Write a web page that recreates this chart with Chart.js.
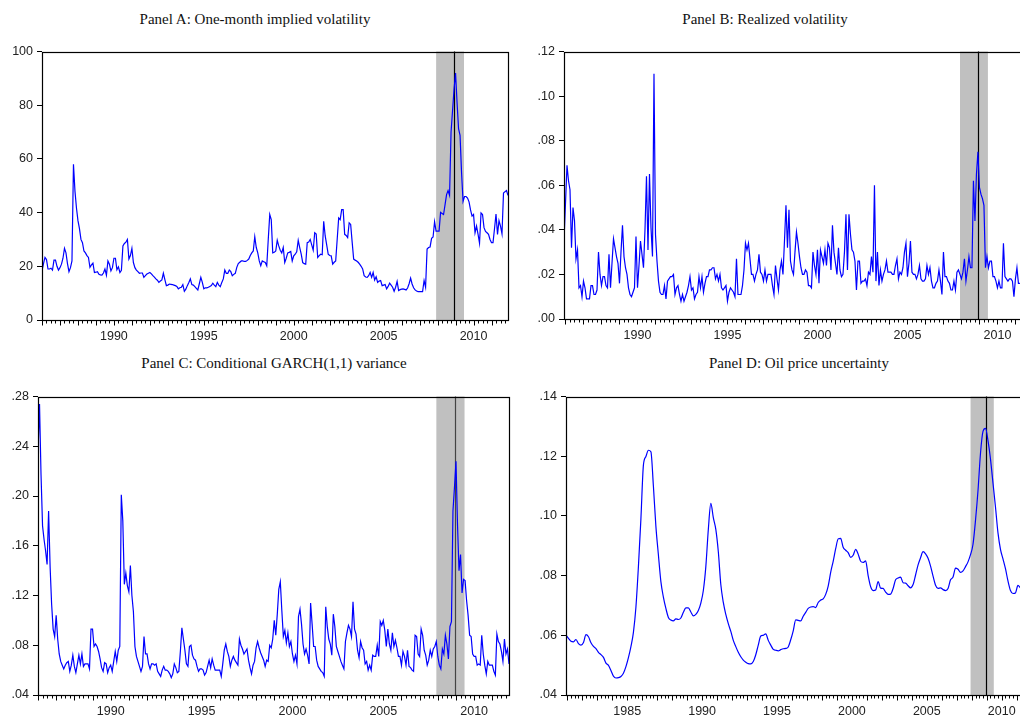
<!DOCTYPE html>
<html>
<head>
<meta charset="utf-8">
<script src="https://cdn.jsdelivr.net/npm/chart.js@4.4.1/dist/chart.umd.min.js"></script>
<style>
html, body { margin: 0; padding: 0; background: #fff; width: 1020px; height: 717px; overflow: hidden; }
.panel { position: absolute; }
.title { position: absolute; font-family: "Liberation Serif", "Times New Roman", serif; font-size: 15px;
         color: #111; white-space: nowrap; transform: translateX(-50%); }
</style>
</head>
<body>
<div class="title" style="left:255px; top:11px">Panel A: One-month implied volatility</div>
<div class="title" style="left:765px; top:11px">Panel B: Realized volatility</div>
<div class="title" style="left:274px; top:355px">Panel C: Conditional GARCH(1,1) variance</div>
<div class="title" style="left:799px; top:355px">Panel D: Oil price uncertainty</div>

<canvas id="chartA" class="panel" width="512" height="310" style="left:0; top:40px"></canvas>
<canvas id="chartB" class="panel" width="505" height="310" style="left:520px; top:40px"></canvas>
<canvas id="chartC" class="panel" width="512" height="332" style="left:0; top:385px"></canvas>
<canvas id="chartD" class="panel" width="505" height="332" style="left:520px; top:385px"></canvas>

<script>
// recession band and the crisis marker (decimal years)
const recession = [2007.92, 2009.47];
const crisisDate = 2008.94;

// Panel A: one-month implied volatility, monthly from Jan 1986
const ivolStart = 1986;
const impliedVol = [
  18.3, 21, 23.3, 22.5, 19, 19, 19.3, 18.6, 22.3, 22.3, 20, 18.6,
  19.5, 20.8, 23, 26.7, 25, 21, 18, 19.5, 22, 58, 48, 41.7,
  37, 34, 30, 28.8, 25.7, 25, 24, 23.3, 19.6, 20.5, 21.2, 17.7,
  17.8, 18, 17, 16.8, 16.7, 17.5, 19, 16.7, 22, 20.8, 18.3, 19.5,
  23, 23, 18.7, 19.8, 17.7, 18.5, 27.6, 28.5, 29, 30, 22.7, 24,
  26.7, 21.4, 19.5, 18.6, 18, 17.4, 17.5, 17.5, 15.9, 16.5, 17.1, 17.4,
  17.7, 17.2, 16.5, 16, 15.3, 14.8, 14, 14.5, 14.9, 17.4, 15, 12.8,
  13, 13.4, 13.3, 13.2, 13, 12.8, 12.5, 11.6, 12, 12.2, 13.2, 10.7,
  11.5, 12.8, 14, 15.3, 13.2, 13, 12.4, 11.8, 11.2, 13.5, 15.9, 14,
  11.6, 12, 12, 12.2, 12.5, 12.8, 13.7, 13, 12.4, 14, 13, 12.4,
  14, 15.3, 18.6, 17.4, 17.4, 18.6, 18, 16.5, 17, 17.4, 19.6, 21,
  21.5, 22, 22, 21.8, 21.8, 22.2, 22.7, 24, 25, 25.7, 31, 27,
  25, 22, 20.2, 22, 21.7, 21.4, 20.2, 30, 39.3, 37.4, 25, 25.2,
  25.7, 29.7, 27.6, 26, 25, 27, 21.4, 23, 25, 25.2, 25.5, 22,
  23.9, 24.5, 25.4, 29.7, 27, 24.5, 21.4, 21, 20.8, 28.8, 29, 30,
  28, 26, 32.5, 32, 23.3, 24, 24.5, 24.3, 36.8, 31.3, 28, 24.5,
  24, 23.9, 20.8, 21.5, 22, 30, 38, 37.4, 41.1, 41.1, 31.9, 31.5,
  30.7, 36.2, 35.6, 29, 22.7, 22.3, 22, 21.5, 20.8, 20, 19, 16.5,
  16, 15.9, 16.5, 17.7, 15.9, 17.7, 14.9, 16.1, 14, 14.5, 14.7, 12.8,
  13, 13.2, 11.6, 12.5, 13.7, 13, 12.2, 10.7, 12.2, 14.4, 11, 11.3,
  11.5, 11.6, 11.4, 11.2, 11.9, 13.5, 15.6, 13.4, 12, 11.2, 10.8, 10.6,
  10.6, 10.6, 10.6, 14.7, 12.2, 26.4, 27, 27.2, 30.4, 30.9, 36.6, 33.1,
  33.1, 33.1, 40.1, 39.7, 39.3, 43, 46.7, 48.2, 46.4, 70, 78, 86,
  92, 81, 71.3, 68.8, 55, 44.2, 46, 46, 45.4, 44, 41, 38.7,
  39.3, 32.5, 35, 32, 28.6, 39.9, 39.3, 34.4, 33, 32.5, 31.9, 30,
  28.8, 28.8, 34, 39.5, 31.9, 37, 35, 32.1, 47.3, 47.8, 48.2, 46.4
];

// Panel B: realized volatility, monthly from Dec 1985
const rvolStart = 1985 + 11 / 12;
const realizedVol = [
  .035, .052, .069, .062, .058, .032, .050, .044, .027, .031, .014, .015,
  .010, .017, .014, .009, .009, .009, .015, .015, .011, .011, .013, .030,
  .020, .015, .019, .019, .015, .014, .029, .014, .025, .036, .032, .028,
  .025, .016, .030, .042, .028, .023, .020, .014, .011, .010, .012, .014,
  .037, .014, .024, .035, .029, .023, .040, .064, .031, .065, .041, .028,
  .110, .038, .026, .017, .012, .011, .011, .015, .009, .017, .018, .019,
  .019, .020, .011, .014, .015, .011, .008, .011, .008, .010, .012, .015,
  .019, .013, .014, .009, .011, .012, .019, .014, .019, .012, .016, .019,
  .019, .022, .022, .023, .023, .018, .020, .017, .020, .014, .013, .014,
  .015, .008, .012, .014, .013, .012, .010, .027, .011, .011, .011, .015,
  .022, .034, .031, .034, .027, .020, .020, .017, .020, .022, .029, .021,
  .020, .017, .022, .017, .020, .020, .020, .015, .011, .024, .018, .013,
  .022, .026, .020, .035, .051, .032, .049, .026, .022, .020, .030, .039,
  .034, .028, .023, .020, .020, .022, .021, .015, .015, .014, .030, .024,
  .020, .031, .016, .031, .028, .025, .031, .024, .034, .032, .022, .042,
  .030, .025, .020, .032, .022, .019, .020, .030, .047, .022, .047, .038,
  .031, .030, .026, .013, .026, .026, .016, .017, .017, .018, .015, .021,
  .020, .028, .021, .060, .017, .030, .015, .022, .017, .020, .022, .026,
  .021, .021, .021, .020, .020, .024, .027, .018, .021, .020, .023, .030,
  .034, .019, .025, .035, .021, .020, .020, .018, .020, .024, .018, .017,
  .017, .018, .024, .020, .023, .017, .014, .014, .016, .017, .022, .017,
  .011, .030, .019, .019, .017, .016, .013, .013, .017, .013, .021, .022,
  .020, .018, .021, .027, .017, .022, .028, .023, .023, .062, .044, .065,
  .075, .059, .056, .054, .051, .023, .028, .023, .026, .026, .019, .019,
  .017, .014, .017, .014, .014, .034, .019, .018, .017, .018, .018, .017,
  .010, .018, .023, .016, .016
];

// Panel C: conditional GARCH(1,1) variance, monthly from Jan 1986
const garchStart = 1986;
const garchVar = [
  .235, .274, .217, .176, .165, .156, .145, .188, .143, .113, .093, .087,
  .104, .085, .073, .067, .064, .061, .064, .066, .067, .059, .064, .072,
  .063, .058, .065, .072, .065, .073, .063, .065, .065, .065, .061, .093,
  .093, .079, .081, .079, .075, .069, .062, .059, .066, .065, .058, .062,
  .064, .059, .067, .075, .067, .076, .079, .201, .180, .129, .138, .128,
  .123, .144, .120, .107, .079, .071, .067, .063, .059, .063, .087, .073,
  .073, .065, .061, .065, .065, .064, .065, .059, .057, .055, .060, .063,
  .060, .060, .059, .057, .054, .057, .065, .062, .058, .059, .075, .094,
  .085, .076, .065, .063, .079, .080, .072, .069, .068, .063, .059, .061,
  .061, .060, .056, .058, .063, .068, .062, .069, .064, .060, .060, .060,
  .060, .055, .065, .076, .081, .075, .071, .063, .068, .071, .068, .066,
  .064, .085, .080, .077, .073, .075, .077, .068, .062, .057, .064, .067,
  .078, .083, .078, .074, .071, .068, .063, .068, .067, .080, .078, .085,
  .100, .088, .105, .125, .131, .108, .087, .092, .082, .090, .079, .083,
  .073, .067, .072, .065, .103, .109, .097, .081, .073, .077, .072, .065,
  .114, .097, .079, .079, .068, .063, .061, .059, .058, .055, .111, .095,
  .085, .081, .072, .105, .095, .079, .075, .071, .067, .064, .061, .083,
  .090, .096, .093, .087, .115, .093, .089, .076, .070, .083, .078, .076,
  .065, .067, .060, .064, .060, .072, .071, .071, .080, .071, .099, .096,
  .100, .092, .079, .093, .081, .076, .090, .079, .084, .078, .071, .071,
  .064, .075, .071, .064, .076, .063, .062, .060, .059, .088, .087, .073,
  .071, .093, .088, .076, .072, .064, .068, .076, .071, .077, .079, .083,
  .071, .064, .061, .077, .073, .088, .081, .069, .095, .099, .188, .207,
  .228, .177, .140, .153, .122, .133, .132, .116, .104, .088, .087, .073,
  .071, .071, .064, .065, .064, .088, .073, .064, .057, .067, .064, .064,
  .064, .059, .056, .089, .083, .081, .075, .067, .085, .073, .077, .065
];

// Panel D: oil price uncertainty, every second month from Dec 1980
const oilStart = 1980 + 11 / 12;
const oilUncert = [
  .0600, .0590, .0580, .0578, .0586, .0572, .0567, .0576, .0602, .0595, .0575, .0563,
  .0555, .0543, .0535, .0526, .0507, .0499, .0482, .0463, .0457, .0458, .0462, .0473,
  .0495, .0525, .0562, .0610, .0694, .0830, .0990, .1170, .1199, .1220, .1215, .1100,
  .0965, .0870, .0780, .0728, .0690, .0660, .0651, .0648, .0655, .0653, .0658, .0677,
  .0692, .0692, .0678, .0665, .0670, .0683, .0708, .0750, .0830, .0955, .1042, .0994,
  .0955, .0880, .0770, .0710, .0670, .0639, .0613, .0583, .0562, .0543, .0528, .0517,
  .0510, .0505, .0504, .0512, .0535, .0567, .0598, .0600, .0605, .0583, .0567, .0553,
  .0550, .0548, .0552, .0555, .0556, .0561, .0585, .0615, .0652, .0650, .0648, .0664,
  .0677, .0690, .0695, .0696, .0693, .0710, .0718, .0722, .0737, .0765, .0811, .0848,
  .0890, .0923, .0925, .0895, .0885, .0877, .0861, .0868, .0888, .0872, .0848, .0844,
  .0849, .0800, .0763, .0750, .0752, .0780, .0758, .0757, .0745, .0737, .0738, .0757,
  .0786, .0792, .0795, .0776, .0775, .0766, .0759, .0770, .0802, .0836, .0860, .0880,
  .0873, .0858, .0832, .0798, .0768, .0757, .0759, .0753, .0750, .0757, .0786, .0795,
  .0825, .0821, .0811, .0816, .0830, .0846, .0870, .0905, .0985, .1085, .1210, .1283,
  .1293, .1252, .1190, .1110, .1030, .0943, .0888, .0856, .0823, .0782, .0750, .0740,
  .0742, .0767, .0759
];

// axis ticks
const yTicksA = [0, 20, 40, 60, 80, 100];
const yTicksB = [0, .02, .04, .06, .08, .10, .12];
const yTicksC = [.04, .08, .12, .16, .20, .24, .28];
const yTicksD = [.04, .06, .08, .10, .12, .14];
const xTicks = [1990, 1995, 2000, 2005, 2010];
const xTicksD = [1985, 1990, 1995, 2000, 2005, 2010];

function toPoints(start, step, values) {
    return values.map((v, i) => ({ x: start + i * step, y: v }));
}

function decimalLabel(v) {
    return v.toFixed(2).replace(/^0/, '');
}

const tickFont = { family: "'Liberation Sans', Arial, sans-serif", size: 12.5 };

const panelDecor = {
    id: 'panelDecor',
    beforeDatasetsDraw(chart, args, opts) {
        const { ctx, chartArea: a, scales: { x } } = chart;
        ctx.save();
        const x0 = x.getPixelForValue(recession[0]);
        const x1 = x.getPixelForValue(recession[1]);
        ctx.fillStyle = '#c0c0c0';
        ctx.fillRect(x0, a.top, x1 - x0, a.bottom - a.top);
        const xl = Math.round(x.getPixelForValue(crisisDate)) + 0.5;
        ctx.strokeStyle = opts.lineColor || '#000';
        ctx.lineWidth = 1.2;
        ctx.beginPath();
        ctx.moveTo(xl, a.top);
        ctx.lineTo(xl, a.bottom);
        ctx.stroke();
        ctx.restore();
    },
    afterDraw(chart) {
        const { ctx, chartArea: a, scales: { x } } = chart;
        const l = Math.round(a.left) + 0.5, t = Math.round(a.top) + 0.5;
        const r = Math.round(a.right) + 0.5, b = Math.round(a.bottom) + 0.5;
        ctx.save();
        ctx.strokeStyle = '#000';
        ctx.lineWidth = 1.2;
        ctx.strokeRect(l, t, r - l, b - t);
        // quarterly minor ticks, longer yearly ticks
        ctx.lineWidth = 1;
        ctx.beginPath();
        for (let q = Math.ceil(x.min * 4); q <= x.max * 4; q++) {
            const px = Math.round(x.getPixelForValue(q / 4)) + 0.5;
            if (px < l || px > r + 1) continue;
            const len = q % 4 === 0 ? 5 : 3;
            ctx.moveTo(px, b);
            ctx.lineTo(px, b + len);
        }
        ctx.stroke();
        ctx.restore();
    }
};

function makePanel(id, cfg) {
    return new Chart(document.getElementById(id), {
        type: 'line',
        data: {
            datasets: [{
                data: cfg.points,
                borderColor: '#0000ff',
                borderWidth: 1.2,
                pointRadius: 0,
                tension: cfg.tension || 0,
                cubicInterpolationMode: cfg.tension ? 'monotone' : 'default'
            }]
        },
        options: {
            responsive: false,
            animation: false,
            layout: { autoPadding: false, padding: { top: cfg.padTop, right: cfg.padRight, left: 0, bottom: 0 } },
            scales: {
                x: {
                    type: 'linear',
                    min: cfg.xMin,
                    max: cfg.xMax,
                    afterBuildTicks: s => { s.ticks = cfg.xTicks.map(v => ({ value: v })); },
                    afterFit: s => { s.height = cfg.xHeight; },
                    ticks: { callback: v => String(v), autoSkip: false, maxRotation: 0, padding: 9, font: tickFont, color: '#222' },
                    grid: { display: false, drawTicks: false },
                    border: { display: false }
                },
                y: {
                    min: cfg.yTicks[0],
                    max: cfg.yTicks[cfg.yTicks.length - 1],
                    afterBuildTicks: s => { s.ticks = cfg.yTicks.map(v => ({ value: v })); },
                    afterFit: s => { s.width = cfg.yWidth; },
                    ticks: { callback: cfg.yFormat, padding: 4, font: tickFont, color: '#222' },
                    grid: { drawOnChartArea: false, drawTicks: true, tickLength: 5, color: '#000' },
                    border: { display: false }
                }
            },
            plugins: {
                legend: { display: false },
                tooltip: { enabled: false },
                panelDecor: { lineColor: cfg.lineColor }
            }
        },
        plugins: [panelDecor]
    });
}

makePanel('chartA', {
    points: toPoints(ivolStart, 1 / 12, impliedVol),
    xMin: 1986, xMax: 2011.917, xTicks: xTicks, yTicks: yTicksA, yFormat: v => String(v),
    yWidth: 42, xHeight: 30, padTop: 9, padRight: 4
});
makePanel('chartB', {
    points: toPoints(rvolStart, 1 / 12, realizedVol),
    xMin: rvolStart, xMax: 2011.42, xTicks: xTicks, yTicks: yTicksB, yFormat: decimalLabel,
    yWidth: 44, xHeight: 31, padTop: 9, padRight: 2
});
makePanel('chartC', {
    points: toPoints(garchStart, 1 / 12, garchVar),
    xMin: 1986, xMax: 2011.917, xTicks: xTicks, yTicks: yTicksC, yFormat: decimalLabel,
    yWidth: 38, xHeight: 22, padTop: 10, padRight: 3, lineColor: '#444'
});
makePanel('chartD', {
    points: toPoints(oilStart, 1 / 6, oilUncert),
    xMin: oilStart, xMax: 2011.42, xTicks: xTicksD, yTicks: yTicksD, yFormat: decimalLabel,
    yWidth: 46, xHeight: 22, padTop: 10, padRight: 2, tension: 0.4
});
</script>
</body>
</html>
